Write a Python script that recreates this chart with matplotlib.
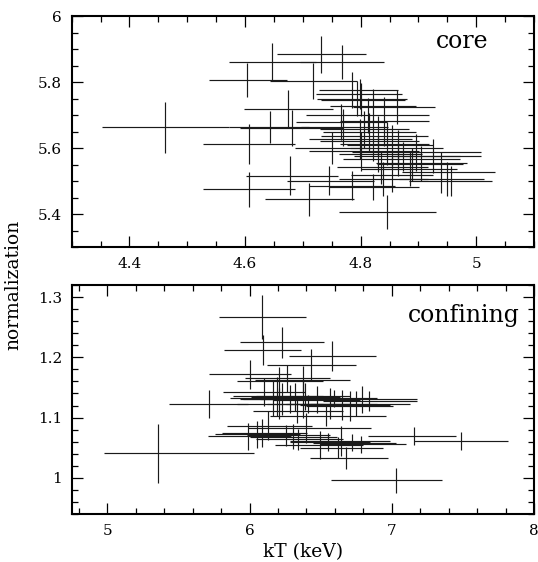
import matplotlib
matplotlib.use("Agg")
import matplotlib.pyplot as plt
from matplotlib.ticker import MultipleLocator, FormatStrFormatter, FuncFormatter

# ---------------- core panel data ----------------
core_kT = [4.461, 4.647, 4.732, 4.768, 4.604, 4.717, 4.674, 4.643, 4.682, 4.607,
           4.678, 4.607, 4.711, 4.845, 4.746, 4.785, 4.822, 4.839, 4.785, 4.8625,
           4.799, 4.794, 4.800, 4.766, 4.769, 4.812, 4.806, 4.815, 4.840, 4.830,
           4.821, 4.799, 4.845, 4.854, 4.865, 4.800, 4.895, 4.830, 4.874, 4.865,
           4.905, 4.889, 4.836, 4.886, 4.939, 4.854, 4.949, 4.957, 4.925, 4.750,
           4.821]
core_kT_lo = [0.109, 0.075, 0.077, 0.073, 0.067, 0.073, 0.076, 0.070, 0.090, 0.079,
              0.076, 0.079, 0.076, 0.082, 0.074, 0.074, 0.076, 0.077, 0.057, 0.076,
              0.077, 0.070, 0.068, 0.078, 0.073, 0.107, 0.077, 0.080, 0.076, 0.098,
              0.092, 0.088, 0.080, 0.077, 0.083, 0.089, 0.110, 0.068, 0.086, 0.095,
              0.079, 0.060, 0.077, 0.086, 0.067, 0.071, 0.083, 0.073, 0.071, 0.064,
              0.074]
core_kT_hi = [0.111, 0.076, 0.077, 0.073, 0.068, 0.077, 0.079, 0.067, 0.088, 0.080,
              0.083, 0.080, 0.077, 0.085, 0.077, 0.074, 0.079, 0.077, 0.080, 0.067,
              0.073, 0.086, 0.077, 0.079, 0.079, 0.107, 0.077, 0.080, 0.079, 0.086,
              0.080, 0.090, 0.074, 0.071, 0.077, 0.101, 0.113, 0.077, 0.098, 0.107,
              0.079, 0.089, 0.080, 0.080, 0.093, 0.071, 0.065, 0.070, 0.083, 0.068,
              0.074]
core_norm = [5.663, 5.861, 5.884, 5.860, 5.807, 5.803, 5.720, 5.665, 5.662, 5.612,
             5.517, 5.475, 5.446, 5.407, 5.502, 5.487, 5.482, 5.507, 5.777, 5.725,
             5.765, 5.750, 5.747, 5.679, 5.663, 5.699, 5.657, 5.649, 5.682, 5.637,
             5.623, 5.627, 5.614, 5.609, 5.602, 5.590, 5.587, 5.582, 5.575, 5.567,
             5.554, 5.552, 5.542, 5.537, 5.527, 5.520, 5.507, 5.501, 5.577, 5.601,
             5.729]
core_norm_err = [0.077, 0.057, 0.055, 0.052, 0.051, 0.054, 0.055, 0.049, 0.054, 0.060,
                 0.058, 0.054, 0.050, 0.051, 0.044, 0.044, 0.040, 0.052, 0.054, 0.052,
                 0.045, 0.052, 0.051, 0.055, 0.055, 0.052, 0.055, 0.057, 0.074, 0.060,
                 0.062, 0.060, 0.065, 0.062, 0.052, 0.060, 0.057, 0.055, 0.045, 0.050,
                 0.052, 0.050, 0.050, 0.050, 0.062, 0.052, 0.052, 0.046, 0.052, 0.049,
                 0.050]

# ---------------- confining panel data ----------------
conf_kT = [5.357, 5.715, 6.085, 6.227, 6.092, 6.582, 6.000, 7.029, 7.159, 7.486,
           6.676, 6.431, 6.265, 6.373, 6.209, 6.209, 6.101, 6.162, 6.195, 6.225,
           6.284, 6.319, 6.331, 6.373, 6.389, 6.413, 6.471, 6.565, 6.593, 6.647,
           6.705, 6.752, 6.792, 6.839, 6.050, 6.085, 6.132, 6.260, 6.307, 6.342,
           6.396, 6.499, 6.553, 6.640, 6.724, 6.787, 6.623, 6.541, 5.991]
conf_kT_lo = [0.377, 0.280, 0.300, 0.297, 0.270, 0.302, 0.287, 0.454, 0.326, 0.330,
              0.254, 0.307, 0.297, 0.335, 0.300, 0.300, 0.286, 0.300, 0.309, 0.293,
              0.328, 0.305, 0.305, 0.300, 0.340, 0.293, 0.305, 0.305, 0.309, 0.293,
              0.305, 0.328, 0.297, 0.321, 0.293, 0.281, 0.288, 0.281, 0.305, 0.293,
              0.405, 0.321, 0.269, 0.356, 0.276, 0.293, 0.269, 0.398, 0.280]
conf_kT_hi = [0.674, 0.277, 0.310, 0.300, 0.273, 0.307, 0.290, 0.324, 0.290, 0.333,
              0.297, 0.321, 0.300, 0.333, 0.309, 0.309, 0.288, 0.309, 0.323, 0.340,
              0.328, 0.316, 0.328, 0.309, 0.316, 0.293, 0.305, 0.328, 0.300, 0.340,
              0.305, 0.375, 0.382, 0.335, 0.305, 0.316, 0.305, 0.305, 0.305, 0.316,
              0.461, 0.300, 0.293, 0.347, 0.309, 0.316, 0.316, 0.422, 0.300]
conf_norm = [1.041, 1.123, 1.267, 1.225, 1.2126, 1.202, 1.172, 0.9956, 1.0687, 1.0615,
             1.0335, 1.188, 1.165, 1.163, 1.160, 1.123, 1.142, 1.132, 1.135, 1.131,
             1.131, 1.1335, 1.1105, 1.131, 1.135, 1.123, 1.1297, 1.123, 1.132, 1.1214,
             1.1187, 1.123, 1.1302, 1.127, 1.072, 1.0737, 1.0868, 1.0704, 1.068, 1.0638,
             1.083, 1.054, 1.0594, 1.061, 1.0583, 1.0555, 1.050, 1.1033, 1.069]
conf_norm_err = [0.049, 0.023, 0.036, 0.026, 0.025, 0.025, 0.024, 0.021, 0.015, 0.015,
                 0.018, 0.025, 0.022, 0.0225, 0.0247, 0.026, 0.0233, 0.030, 0.0316, 0.026,
                 0.0233, 0.0233, 0.019, 0.0316, 0.022, 0.015, 0.022, 0.026, 0.0137, 0.0247,
                 0.0247, 0.0206, 0.0225, 0.0165, 0.022, 0.0233, 0.0233, 0.0178, 0.0206, 0.0178,
                 0.0247, 0.0233, 0.0151, 0.0247, 0.0137, 0.0137, 0.0178, 0.0178, 0.022]

panel_labels = ["core", "confining"]
x_label = "kT (keV)"
y_label = "normalization"

# ---------------- figure ----------------
plt.rcParams['font.family'] = ['DejaVu Serif']
W, H = 538, 562
fig = plt.figure(figsize=(W / 100, H / 100), dpi=100)

left = 71.7 / W
width = (534 - 71.7) / W
ax1 = fig.add_axes([left, (H - 247.3) / H, width, (247.3 - 16) / H])
ax2 = fig.add_axes([left, (H - 514) / H, width, (514 - 285) / H])

ecol = '#1a1a1a'
ax1.errorbar(core_kT, core_norm, xerr=[core_kT_lo, core_kT_hi], yerr=core_norm_err,
             fmt='none', ecolor=ecol, elinewidth=0.85, capsize=0)
ax2.errorbar(conf_kT, conf_norm, xerr=[conf_kT_lo, conf_kT_hi], yerr=conf_norm_err,
             fmt='none', ecolor=ecol, elinewidth=0.85, capsize=0)

ax1.set_xlim(4.3, 5.1)
ax1.set_ylim(5.3, 6.0)
ax2.set_xlim(4.75, 8.0)
ax2.set_ylim(0.94, 1.32)

fmt = FuncFormatter(lambda v, p: ('%g' % round(v, 3)))
ax1.xaxis.set_major_locator(MultipleLocator(0.2))
ax1.xaxis.set_minor_locator(MultipleLocator(0.05))
ax1.yaxis.set_major_locator(MultipleLocator(0.2))
ax1.yaxis.set_minor_locator(MultipleLocator(0.05))
ax2.xaxis.set_major_locator(MultipleLocator(1))
ax2.xaxis.set_minor_locator(MultipleLocator(0.2))
ax2.yaxis.set_major_locator(MultipleLocator(0.1))
ax2.yaxis.set_minor_locator(MultipleLocator(0.02))

for ax in (ax1, ax2):
    ax.xaxis.set_major_formatter(fmt)
    ax.yaxis.set_major_formatter(fmt)
    for s in ax.spines.values():
        s.set_linewidth(1.5)
    ax.tick_params(which='both', direction='in', top=True, right=True,
                   labelsize=11, pad=7, width=0.9)
    ax.tick_params(which='major', length=8)
    ax.tick_params(which='minor', length=4)

ax1.text(0.9005, 0.86, panel_labels[0], transform=ax1.transAxes, ha='right',
         va='baseline', fontsize=17)
ax2.text(0.969, 0.84, panel_labels[1], transform=ax2.transAxes, ha='right',
         va='baseline', fontsize=17)

fig.text(13.7 / W, 1 - 285 / H, y_label, rotation=90, ha='center', va='center',
         fontsize=13.5)
fig.text((71.7 + 534) / 2 / W, 1 - 552 / H, x_label, ha='center', va='center',
         fontsize=13.5)

fig.savefig("out.png", dpi=100)
